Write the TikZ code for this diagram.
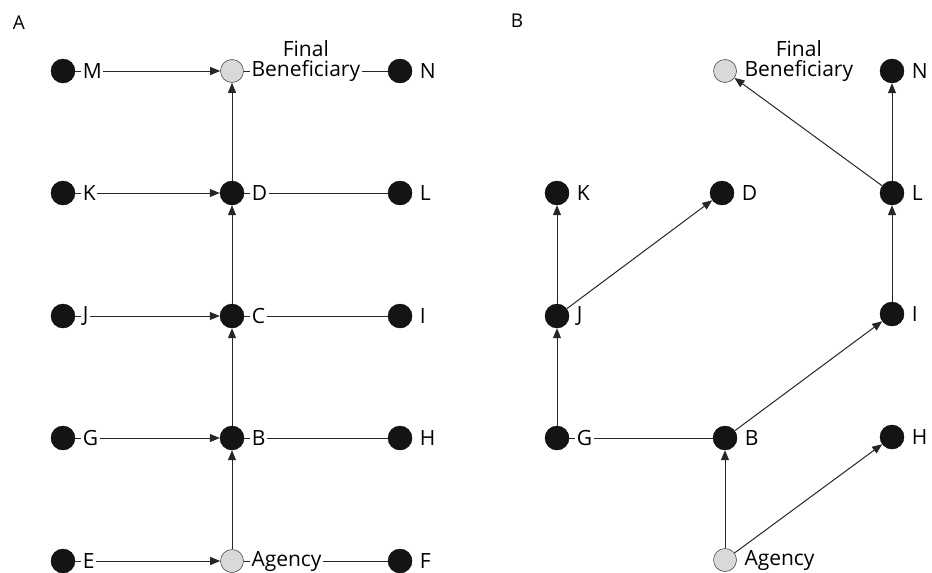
\documentclass[tikz,border=0pt]{standalone}
\usepackage{fontspec}
\setmainfont{Open Sans}
\usetikzlibrary{arrows.meta}
\begin{document}
\begin{tikzpicture}[x=1pt,y=-1pt,
  dk/.style={circle,fill=black!92,draw=black,minimum size=24pt,inner sep=0pt},
  lt/.style={circle,fill=black!15,draw=black!70,line width=0.6pt,minimum size=23pt,inner sep=0pt},
  lab/.style={anchor=west,inner sep=1.5pt,font=\fontsize{21}{23}\selectfont},
  labw/.style={lab,fill=white},
  ttl/.style={inner sep=0pt,font=\fontsize{19}{21}\selectfont},
  con/.style={line width=1pt,draw=black!85},
  arr/.style={con,-{Triangle[length=10pt,width=8pt]}}]
\useasboundingbox (0,0) rectangle (932,573);

% ---------- Panel A ----------
\node[ttl] (tA) at (19,23) {A};
\node[dk] (aM) at (63,71) {};
\node[lt] (aFB) at (232,71) {};
\node[dk] (aN) at (400,71) {};
\node[dk] (aK) at (63,193) {};
\node[dk] (aD) at (232,193) {};
\node[dk] (aL) at (400,193) {};
\node[dk] (aJ) at (63,316) {};
\node[dk] (aC) at (232,316) {};
\node[dk] (aI) at (400,316) {};
\node[dk] (aG) at (63,438) {};
\node[dk] (aB) at (232,438) {};
\node[dk] (aH) at (400,438) {};
\node[dk] (aE) at (63,561) {};
\node[lt] (aAg) at (232,561) {};
\node[dk] (aF) at (400,561) {};

\draw[arr] (aM) -- (aFB);
\draw[con] (aFB) -- (aN);
\draw[arr] (aK) -- (aD);
\draw[con] (aD) -- (aL);
\draw[arr] (aJ) -- (aC);
\draw[con] (aC) -- (aI);
\draw[arr] (aG) -- (aB);
\draw[con] (aB) -- (aH);
\draw[arr] (aE) -- (aAg);
\draw[con] (aAg) -- (aF);
\draw[arr] (aAg) -- (aB);
\draw[arr] (aB) -- (aC);
\draw[arr] (aC) -- (aD);
\draw[arr] (aD) -- (aFB);

\node[labw] (laM) at ([xshift=6pt]aM.east) {M};
\node[labw] (laFB) at ([xshift=6pt]aFB.east) {Beneficiary};
\node[lab, anchor=south] (laFi) at ([yshift=0pt]laFB.north) {Final};
\node[labw] (laN) at ([xshift=6pt]aN.east) {N};
\node[labw] (laK) at ([xshift=6pt]aK.east) {K};
\node[labw] (laD) at ([xshift=6pt]aD.east) {D};
\node[labw] (laL) at ([xshift=6pt]aL.east) {L};
\node[labw] (laJ) at ([xshift=6pt]aJ.east) {J};
\node[labw] (laC) at ([xshift=6pt]aC.east) {C};
\node[labw] (laI) at ([xshift=6pt]aI.east) {I};
\node[labw] (laG) at ([xshift=6pt]aG.east) {G};
\node[labw] (laB) at ([xshift=6pt]aB.east) {B};
\node[labw] (laH) at ([xshift=6pt]aH.east) {H};
\node[labw] (laE) at ([xshift=6pt]aE.east) {E};
\node[labw] (laAg) at ([xshift=6pt]aAg.east) {Agency};
\node[labw] (laF) at ([xshift=6pt]aF.east) {F};

% ---------- Panel B ----------
\node[ttl] (tB) at (517,21) {B};
\node[lt] (bFB) at (725,71) {};
\node[dk] (bN) at (892,71) {};
\node[dk] (bK) at (557,193) {};
\node[dk] (bD) at (722,193) {};
\node[dk] (bL) at (892,193) {};
\node[dk] (bJ) at (557,316) {};
\node[dk] (bI) at (892,314) {};
\node[dk] (bG) at (557,438) {};
\node[dk] (bB) at (725,438) {};
\node[dk] (bH) at (892,437) {};
\node[lt] (bAg) at (725,560) {};

\draw[con] (bG) -- (bB);
\draw[arr] (bAg) -- (bB);
\draw[arr] (bAg) -- (bH);
\draw[arr] (bG) -- (bJ);
\draw[arr] (bJ) -- (bK);
\draw[arr] (bJ) -- (bD);
\draw[arr] (bB) -- (bI);
\draw[arr] (bI) -- (bL);
\draw[arr] (bL) -- (bN);
\draw[arr] (bL) -- (bFB);

\node[lab] (lbFB) at ([xshift=6pt]bFB.east) {Beneficiary};
\node[lab, anchor=south] (lbFi) at ([yshift=0pt]lbFB.north) {Final};
\node[lab] (lbN) at ([xshift=6pt]bN.east) {N};
\node[lab] (lbK) at ([xshift=6pt]bK.east) {K};
\node[lab] (lbD) at ([xshift=6pt]bD.east) {D};
\node[lab] (lbL) at ([xshift=6pt]bL.east) {L};
\node[lab] (lbJ) at ([xshift=6pt]bJ.east) {J};
\node[lab] (lbI) at ([xshift=6pt]bI.east) {I};
\node[labw] (lbG) at ([xshift=6pt]bG.east) {G};
\node[lab] (lbB) at ([xshift=6pt]bB.east) {B};
\node[lab] (lbH) at ([xshift=6pt]bH.east) {H};
\node[lab] (lbAg) at ([xshift=6pt]bAg.east) {Agency};
\end{tikzpicture}
\end{document}
